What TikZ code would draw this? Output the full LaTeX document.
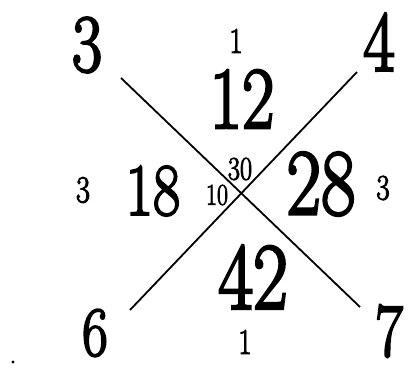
\documentclass[tikz,border=0pt]{standalone}
\usepackage{fontspec}
\newfontfamily\digitfont[FakeBold=3]{Latin Modern Roman}
\begin{document}
\begin{tikzpicture}[x=1pt,y=1pt,
  num/.style={inner sep=0pt,xscale=0.8,transform shape,font=\fontsize{#1}{#1}\selectfont\digitfont},
  stroke/.style={line width=1.8pt}]
\useasboundingbox (0,0) rectangle (411,367);
% line ends
\coordinate (a1) at (121,289);
\coordinate (a2) at (360,60);
\coordinate (b1) at (357,295);
\coordinate (b2) at (130,57);
\draw[stroke] (a1) -- (a2);
\draw[stroke] (b1) -- (b2);
% corner numbers
\node[num=82] (n3) at (87,322) {3};
\node[num=86] (n4) at (379,325) {4};
\node[num=70] (n6) at (95,34) {6};
\node[num=76] (n7) at (389,36) {7};
% region numbers
\node[num=88] (n12) at (242,268) {12};
\node[num=74] (n18) at (153,176) {18};
\node[num=94] (n28) at (321,183) {28};
\node[num=95] (n42) at (253,90) {42};
% small numbers
\node[num=36] (t1) at (236,326) {1};
\node[num=36] (b1n) at (245,25) {1};
\node[num=38] (l3) at (83,177) {3};
\node[num=36] (r3) at (383,179) {3};
\node[num=30] (c10) at (217,172) {10};
\node[num=33] (c30) at (240,198) {30};
% stray dot
\fill (13,5) circle (1.6pt);
\end{tikzpicture}
\end{document}
